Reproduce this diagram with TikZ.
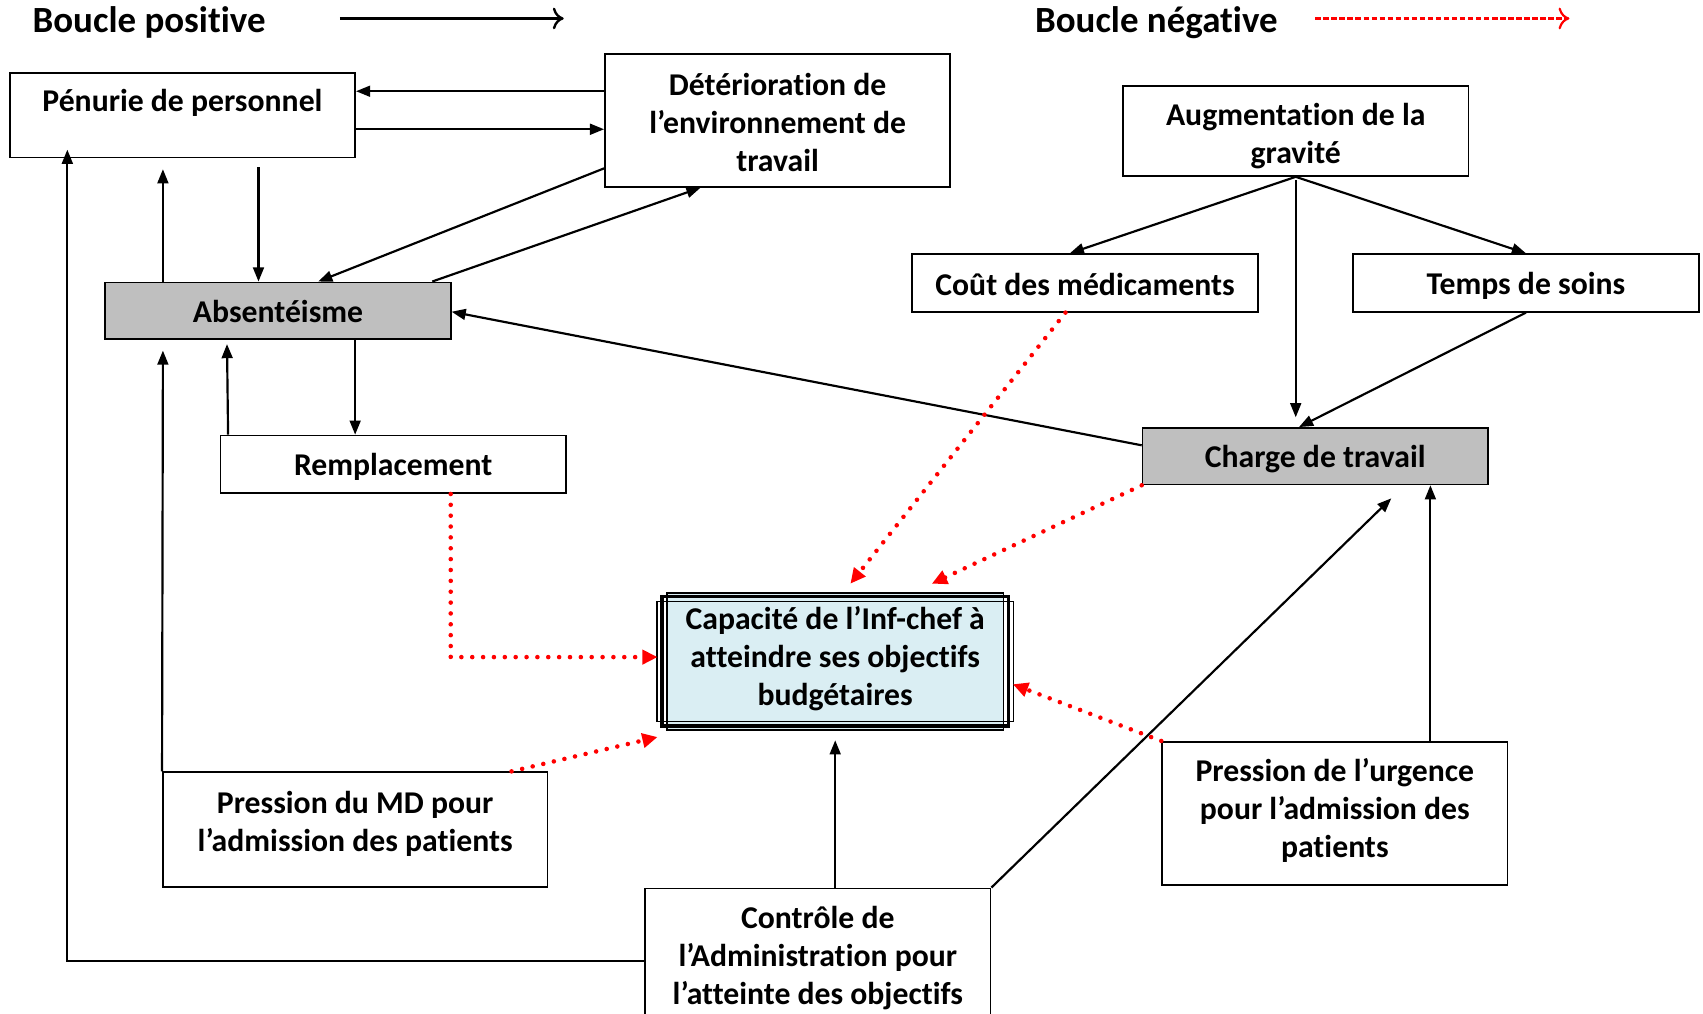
\documentclass[tikz,border=0pt]{standalone}
\usepackage{fontspec}
\setmainfont{Carlito}[Ligatures=NoCommon]
\usetikzlibrary{arrows.meta,calc}
\definecolor{boxgray}{HTML}{BFBFBF}
\definecolor{capfill}{HTML}{DAEEF3}
\definecolor{negred}{HTML}{FF0000}
\begin{document}
\begin{tikzpicture}[x=0.5pt,y=-0.5pt,
  every node/.style={font=\fontsize{14.6}{17.5}\selectfont\bfseries},
  box/.style={draw, line width=0.8pt, rectangle, inner sep=0pt, minimum width=159pt},
  graybox/.style={box, fill=boxgray},
  boxtext/.style={align=center, inner sep=0pt},
  poslink/.style={line width=1pt, -{Triangle[length=6.5pt,width=5pt]}},
  neglink/.style={negred, line width=2.1pt, line cap=round, dash pattern=on 0pt off 5pt,
    -{Triangle[length=7pt,width=6.5pt,line cap=butt]}},
  legendtext/.style={anchor=west, font=\fontsize{17}{20}\selectfont\bfseries}
]
\useasboundingbox (0,0) rectangle (1568,933);

% legend
\node[legendtext] (lpos) at (23,21) {Boucle positive};
\coordinate (lposA) at (313,17);
\coordinate (lposB) at (519,17);
\draw[line width=1.1pt, -{To[length=5pt,width=10pt]}] (lposA) -- (lposB);
\node[legendtext] (lneg) at (946,21) {Boucle négative};
\coordinate (lnegA) at (1211,17);
\coordinate (lnegB) at (1445,17);
\draw[negred, line width=1pt, dash pattern=on 2.5pt off 1.2pt,
  -{To[length=5pt,width=10pt]}] (lnegA) -- (lnegB);

% boxes
\node[box, minimum height=39pt] (pen) at (168,106) {};
\node[box, minimum height=61pt] (det) at (716,111) {};
\node[box, minimum height=41.5pt] (aug) at (1193,120.5) {};
\node[box, minimum height=26.5pt] (cout) at (999,260.5) {};
\node[box, minimum height=26.5pt] (temps) at (1405,260.5) {};
\node[graybox, minimum height=26pt] (abs) at (256,286) {};
\node[box, minimum height=26.5pt] (rem) at (362,427.5) {};
\node[graybox, minimum height=26pt] (charge) at (1211,420) {};
\node[box, fill=capfill, minimum width=155pt, minimum height=63pt, line width=0.6pt] (cap) at (769,609) {};
\draw[line width=1.6pt] ([shift={(-4,4)}]cap.north west) rectangle ([shift={(4,-4)}]cap.south east);
\draw[line width=0.5pt] ([shift={(-8.5,8.5)}]cap.north west) rectangle ([shift={(8.5,-8.5)}]cap.south east);
\node[box, minimum width=177pt, minimum height=53pt] (md) at (327,764) {};
\node[box, minimum height=66pt] (urg) at (1229,749) {};
\node[box, minimum height=63pt] (ctl) at (753,881) {};

% box labels
\node[boxtext] (penT) at (168,95) {Pénurie de personnel};
\node[boxtext] (detT) at (716,113) {Détérioration de\\l’environnement de\\travail};
\node[boxtext] (augT) at (1193,125) {Augmentation de la\\gravité};
\node[boxtext] (coutT) at (999,262) {Coût des médicaments};
\node[boxtext] (tempsT) at (1405,263) {Temps de soins};
\node[boxtext] (absT) at (256,287) {Absentéisme};
\node[boxtext] (remT) at (362,429.5) {Remplacement};
\node[boxtext] (chargeT) at (1211,423) {Charge de travail};
\node[boxtext] (capT) at (769,606) {Capacité de l’Inf-chef à\\atteindre ses objectifs\\budgétaires};
\node[boxtext] (mdT) at (327,758.5) {Pression du MD pour\\l’admission des patients};
\node[boxtext] (urgT) at (1229,746) {Pression de l’urgence\\pour l’admission des\\patients};
\node[boxtext] (ctlT) at (753,882) {Contrôle de\\l’Administration pour\\l’atteinte des objectifs};

% positive loop connectors
\draw[poslink] ([shift={(0,-27)}]det.west) -- ([shift={(0,-22)}]pen.east);
\draw[poslink] ([shift={(0,13)}]pen.east) -- ([shift={(0,8)}]det.west);
\draw[poslink] ([shift={(70,8)}]pen.south) -- ([shift={(-18,0)}]abs.north);
\draw[poslink] ([shift={(-106,0)}]abs.north) -- ([shift={(-18,10)}]pen.south);
\draw[poslink] ([shift={(0,44)}]det.west) -- ([shift={(37,0)}]abs.north);
\draw[poslink] ([shift={(142,0)}]abs.north) -- ([shift={(-71,0)}]det.south);
\draw[poslink] ([shift={(0,-10)}]charge.west) -- ([shift={(0,1)}]abs.east);
\draw[poslink] ([shift={(71,0)}]abs.south) -- ([shift={(-35,0)}]rem.north);
\draw[poslink] ([shift={(-152,0)}]rem.north) -- ([shift={(-47,4)}]abs.south);
\draw[poslink] (md.north west) -- ([shift={(-106,10)}]abs.south);
\draw[poslink] ([shift={(0,4)}]ctl.west) -| ([shift={(-106,-8)}]pen.south);
\draw[poslink] (aug.south) -- ([shift={(-14,0)}]cout.north);
\draw[poslink] (aug.south) -- (temps.north);
\draw[poslink] ([shift={(0,3)}]aug.south) -- ([shift={(-18,-9)}]charge.north);
\draw[poslink] (temps.south) -- ([shift={(-15,0)}]charge.north);
\draw[poslink] (ctl.north east) -- ([shift={(70,12)}]charge.south);
\draw[poslink] ([shift={(88,0)}]urg.north) -- ([shift={(106,0)}]charge.south);
\draw[poslink] ([shift={(16,0)}]ctl.north) -- ([shift={(0,9)}]cap.south);

% negative loop connectors
\draw[neglink] ([shift={(-18,0)}]cout.south) -- ([shift={(14,-8)}]cap.north);
\draw[neglink] (charge.south west) -- ([shift={(89,-8)}]cap.north);
\draw[neglink] ([shift={(53,0)}]rem.south) |- ([shift={(-8,-4)}]cap.west);
\draw[neglink] ([shift={(144,0)}]md.north) -- ([shift={(-8,6)}]cap.south west);
\draw[neglink] (urg.north west) -- ([shift={(8,21)}]cap.east);
\end{tikzpicture}
\end{document}
